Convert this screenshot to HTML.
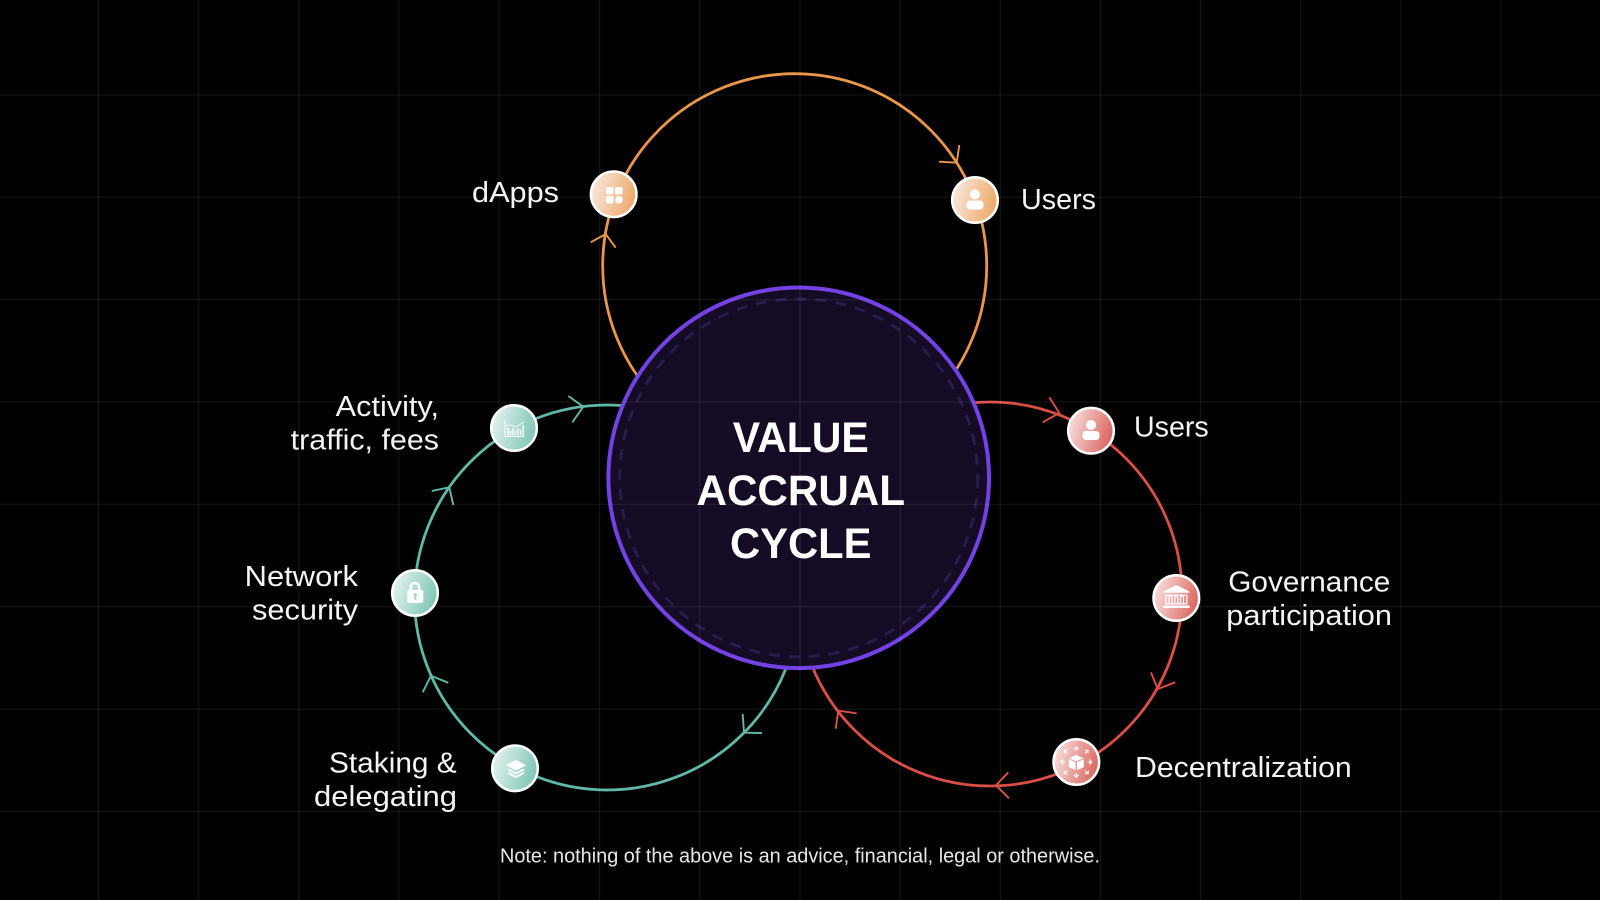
<!DOCTYPE html>
<html><head><meta charset="utf-8"><style>
html,body{margin:0;padding:0;background:#000;width:1600px;height:900px;overflow:hidden}
svg{display:block}
text{font-family:"Liberation Sans",sans-serif;fill:#f4f4f4;font-size:29px}
.t{font-weight:700;font-size:43px;fill:#fff}
.n{font-size:20px;fill:#e6e6e6}
.a{fill:none;stroke-width:2.8}
.h{fill:none;stroke-width:1.9;stroke-linejoin:miter}
.g{stroke:#fff;stroke-opacity:.08;stroke-width:1.2}
.i{fill:#fff}
</style></head><body>
<svg width="1600" height="900" viewBox="0 0 1600 900" xmlns="http://www.w3.org/2000/svg">
<defs>
<linearGradient id="go" x1="0" x2="1" y1="0.3" y2="0.6"><stop offset="0" stop-color="#f8e9df"/><stop offset="1" stop-color="#eda765"/></linearGradient>
<linearGradient id="gt" x1="0" x2="1" y1="0.3" y2="0.6"><stop offset="0" stop-color="#e4f2ef"/><stop offset="1" stop-color="#7cc5b4"/></linearGradient>
<linearGradient id="gr" x1="0" x2="1" y1="0.3" y2="0.6"><stop offset="0" stop-color="#f7e1df"/><stop offset="1" stop-color="#da635c"/></linearGradient>
</defs>
<rect width="1600" height="900" fill="#000"/>

<circle class="a" cx="794.7" cy="265.7" r="192" stroke="#e99648"/>
<circle class="a" cx="607" cy="597.5" r="192.5" stroke="#5fb8a8"/>
<circle class="a" cx="990" cy="594" r="192" stroke="#da4e46"/>

<circle cx="798.7" cy="477.8" r="190.3" fill="#150b24" stroke="#7342e4" stroke-width="4"/>
<circle cx="798.7" cy="477.8" r="179" fill="none" stroke="#2a1b4d" stroke-width="3" stroke-dasharray="11 9"/>

<g class="g">
<path d="M98.5 0V900M198.6 0V900M298.7 0V900M398.8 0V900M499 0V900M599.5 0V900M699.7 0V900M800 0V900M900.2 0V900M1000.3 0V900M1100.4 0V900M1200.5 0V900M1300.6 0V900M1400.7 0V900M1500.8 0V900"/>
<path d="M0 95H1600M0 197.3H1600M0 299.7H1600M0 402H1600M0 504.3H1600M0 606.7H1600M0 709.2H1600M0 811.5H1600"/>
</g>

<g class="h" stroke="#e99648">
<polyline points="959.3,145 956.7,162.7 939,161.7"/>
<polyline points="590.7,242.3 605.7,234 615.7,247.7"/>
</g>
<g class="h" stroke="#5fb8a8">
<polyline points="568.3,396 583.3,406.7 572.3,422.3"/>
<polyline points="431.7,491 449.3,487.3 453.3,505"/>
<polyline points="422.7,692.3 431,675.7 448.3,682.7"/>
<polyline points="742.7,714 744,732.7 762,733"/>
</g>
<g class="h" stroke="#da4e46">
<polyline points="1049.3,397.3 1059.3,413 1042.7,422.3"/>
<polyline points="1151,672.3 1157.7,689 1175.3,682.3"/>
<polyline points="1008.3,772.3 996,785.3 1009,798.3"/>
<polyline points="856.7,713.3 838.3,710.7 835.7,728.7"/>
</g>

<!-- nodes -->
<g stroke="#fff" stroke-width="2.5">
<circle cx="613.7" cy="194.3" r="22.8" fill="url(#go)"/>
<circle cx="975" cy="200" r="22.8" fill="url(#go)"/>
<circle cx="514" cy="428" r="22.8" fill="url(#gt)"/>
<circle cx="415" cy="593" r="22.8" fill="url(#gt)"/>
<circle cx="515" cy="768.3" r="22.8" fill="url(#gt)"/>
<circle cx="1091" cy="430.7" r="22.8" fill="url(#gr)"/>
<circle cx="1176.3" cy="598" r="22.8" fill="url(#gr)"/>
<circle cx="1076.3" cy="762" r="22.8" fill="url(#gr)"/>
</g>

<!-- apps -->
<g class="i">
<rect x="606" y="187" rx="2" width="7.5" height="7.5"/><rect x="615" y="187" rx="2" width="7.5" height="7.5"/>
<rect x="606" y="196" rx="2" width="7.5" height="7.5"/><circle cx="619" cy="199.7" r="3.8"/>
</g>
<!-- person orange -->
<g class="i"><circle cx="975" cy="194.500" r="5"/><rect x="966.500" y="200.500" width="17" height="9" rx="3.500"/></g>
<!-- person red -->
<g class="i"><circle cx="1091" cy="425" r="5"/><rect x="1082.500" y="431" width="17" height="9" rx="3.500"/></g>
<!-- chart -->
<g stroke="#fff" fill="none" stroke-width="1">
<path d="M505 420V436.500H524.500"/>
<path d="M508 428V435.500M510.500 431V435.500M513 428V435.500M515.500 430V435.500M518 428V435.500M520.500 430V435.500M523 425V435.500" stroke-width="1.400"/>
<path d="M506 426L511 425L516 427L524 422" stroke-width=".8"/>
</g>
<!-- lock -->
<g>
<path d="M410.800 591v-3.800a4.200 4.200 0 0 1 8.400 0V591" fill="none" stroke="#fff" stroke-width="2.600"/>
<rect x="407.300" y="590" width="16" height="13" rx="2" fill="#fff"/>
<path d="M415.300 592.700l2.500 3h-1.500v4h-2v-4h-1.500z" fill="#9fd4c7"/>
</g>
<!-- layers -->
<g fill="none" stroke="#fff" stroke-width="1.900">
<path d="M516 761l8 4.200-8 4.200-8-4.200z" fill="#fff"/>
<path d="M508 769.300l8 4.200 8-4.200"/>
<path d="M508 772.800l8 4.200 8-4.200"/>
</g>
<!-- bank -->
<g fill="#fff">
<path d="M1176.300 585l13 6.500v1.300h-26v-1.300z"/>
<rect x="1163" y="605.500" width="26.500" height="2.500"/>
<rect x="1165" y="594.500" width="22.500" height="1.200"/>
</g>
<g fill="none" stroke="#fff" stroke-width="1.300">
<path d="M1165.500 603.800H1187.500M1166 604V596M1186.800 604V596M1169 603.500V597.500a1.500 1.500 0 0 1 3 0V603.500M1174.800 603.500V597.500a1.500 1.500 0 0 1 3 0V603.500M1180.500 603.500V597.500a1.500 1.500 0 0 1 3 0V603.500"/>
</g>
<!-- cube -->
<g fill="#fff">
<path d="M1076.300 755l7 3.200-7 3.200-7-3.200z"/>
<path d="M1068.800 759.300l6.800 3v7.800l-6.800-3zM1083.800 759.300l-6.800 3v7.800l6.800-3z"/>
</g>
<g fill="none" stroke="#fff" stroke-width="1.200" stroke-opacity=".9">
<path d="M1076.300 751v-4M1073.800 749.300l2.500-2.500 2.500 2.500"/>
<path d="M1076.300 773v4M1073.800 774.700l2.500 2.500 2.500-2.500"/>
<path d="M1065 762h-4M1063.300 759.500l-2.500 2.500 2.500 2.500"/>
<path d="M1087.600 762h4M1089.300 759.500l2.500 2.500-2.500 2.500"/>
<path d="M1067.500 753.500l-3-3M1064.300 753.500v-3.200h3.200"/>
<path d="M1085 753.500l3-3M1084.900 750.300h3.200v3.200"/>
<path d="M1067.500 770.500l-3 3M1064.300 770.500v3.200h3.200"/>
<path d="M1085 770.500l3 3M1088.200 770.500v3.200h-3.200"/>
</g>

<!-- labels -->
<text x="472" y="202" textLength="87" lengthAdjust="spacingAndGlyphs">dApps</text>
<text x="1021" y="209" textLength="75" lengthAdjust="spacingAndGlyphs">Users</text>
<text x="335.700" y="416" textLength="103.300" lengthAdjust="spacingAndGlyphs">Activity,</text>
<text x="290.700" y="449.500" textLength="148.300" lengthAdjust="spacingAndGlyphs">traffic, fees</text>
<text x="244.700" y="586" textLength="113.300" lengthAdjust="spacingAndGlyphs">Network</text>
<text x="252" y="619.500" textLength="106" lengthAdjust="spacingAndGlyphs">security</text>
<text x="329" y="772.300" textLength="127.700" lengthAdjust="spacingAndGlyphs">Staking &amp;</text>
<text x="314" y="806" textLength="143" lengthAdjust="spacingAndGlyphs">delegating</text>
<text x="1134" y="436.700" textLength="74.700" lengthAdjust="spacingAndGlyphs">Users</text>
<text x="1228.300" y="591.500" textLength="162" lengthAdjust="spacingAndGlyphs">Governance</text>
<text x="1226.300" y="625" textLength="165.700" lengthAdjust="spacingAndGlyphs">participation</text>
<text x="1135" y="777" textLength="216.700" lengthAdjust="spacingAndGlyphs">Decentralization</text>
<text class="t" x="732.800" y="451.800" textLength="136" lengthAdjust="spacingAndGlyphs">VALUE</text>
<text class="t" x="696.500" y="504.800" textLength="208.500" lengthAdjust="spacingAndGlyphs">ACCRUAL</text>
<text class="t" x="730" y="558" textLength="141.500" lengthAdjust="spacingAndGlyphs">CYCLE</text>
<text class="n" x="500" y="862.700" textLength="600" lengthAdjust="spacingAndGlyphs">Note: nothing of the above is an advice, financial, legal or otherwise.</text>
</svg>
</body></html>
